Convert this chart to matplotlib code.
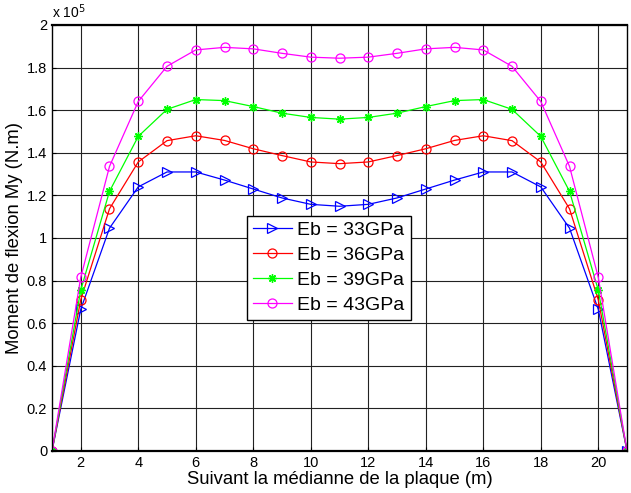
import matplotlib
matplotlib.use("Agg")
import matplotlib.pyplot as plt
import numpy as np

plt.rcParams['font.family'] = ['Liberation Sans', 'DejaVu Sans']

x = list(range(1, 22))
eb33 = [0, 0.665, 1.046, 1.240, 1.310, 1.310, 1.272, 1.230, 1.188, 1.158, 1.149,
        1.158, 1.188, 1.230, 1.272, 1.310, 1.310, 1.240, 1.046, 0.665, 0]
eb36 = [0, 0.710, 1.137, 1.357, 1.457, 1.480, 1.458, 1.419, 1.387, 1.357, 1.349,
        1.357, 1.387, 1.419, 1.458, 1.480, 1.457, 1.357, 1.137, 0.710, 0]
eb39 = [0, 0.755, 1.219, 1.477, 1.604, 1.650, 1.645, 1.617, 1.586, 1.566, 1.558,
        1.566, 1.586, 1.617, 1.645, 1.650, 1.604, 1.477, 1.219, 0.755, 0]
eb43 = [0, 0.815, 1.336, 1.641, 1.806, 1.883, 1.895, 1.888, 1.867, 1.849, 1.844,
        1.849, 1.867, 1.888, 1.895, 1.883, 1.806, 1.641, 1.336, 0.815, 0]
labels = ['Eb = 33GPa', 'Eb = 36GPa', 'Eb = 39GPa', 'Eb = 43GPa']
xticks = [2, 4, 6, 8, 10, 12, 14, 16, 18, 20]
yticks = [0, 0.2, 0.4, 0.6, 0.8, 1.0, 1.2, 1.4, 1.6, 1.8, 2.0]
ytick_labels = ['0', '0.2', '0.4', '0.6', '0.8', '1', '1.2', '1.4', '1.6', '1.8', '2']

scale = 1e5
fig = plt.figure(figsize=(6.31, 4.93), dpi=100)
ax = fig.add_axes([0.0824, 0.0852, 0.9113, 0.8641])

ax.plot(x, np.array(eb33) * scale, color='#0000ff', marker='>', ms=6.5, mfc='none', mew=0.9, lw=0.9, label=labels[0])
ax.plot(x, np.array(eb36) * scale, color='#ff0000', marker='o', ms=6.5, mfc='none', mew=0.9, lw=0.9, label=labels[1])
ax.plot(x, np.array(eb39) * scale, color='#00ff00', marker=(8, 2, 0), ms=6, mfc='none', mew=1.0, lw=0.9, label=labels[2])
ax.plot(x, np.array(eb43) * scale, color='#ff00ff', marker='o', ms=6.5, mfc='none', mew=0.9, lw=0.9, label=labels[3])

ax.set_xlim(1, 21)
ax.set_ylim(0, 2 * scale)
ax.set_xticks(xticks)
ax.set_yticks(np.array(yticks) * scale)
ax.set_yticklabels(ytick_labels)
ax.tick_params(direction='in', length=3, labelsize=10.5, width=0.8)
ax.grid(True, color='#222222', lw=0.8, ls='-')
ax.set_axisbelow(True)
for s in ax.spines.values():
    s.set_linewidth(1.0)
ax.spines['bottom'].set_linewidth(1.6)
ax.spines['top'].set_linewidth(1.6)

ax.text(0.0, 1.01, r'x 10$^5$', transform=ax.transAxes, fontsize=10, ha='left', va='bottom')

ax.set_xlabel('Suivant la médianne de la plaque (m)', fontsize=13.3, labelpad=1)
ax.set_ylabel('Moment de flexion My (N.m)', fontsize=13.3, labelpad=3)

leg = ax.legend(loc='upper left', bbox_to_anchor=(0.339, 0.552), fontsize=14,
                frameon=True, fancybox=False, edgecolor='black', framealpha=1,
                handlelength=2.0, borderpad=0.3, labelspacing=0.38, handletextpad=0.3,
                borderaxespad=0)
leg.get_frame().set_linewidth(1.0)

fig.savefig('out.png', dpi=100)
